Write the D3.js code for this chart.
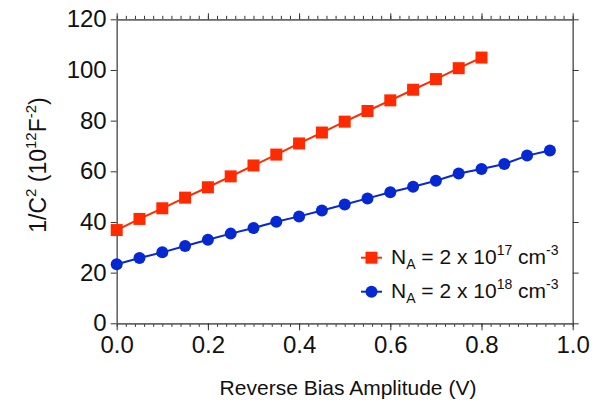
<!DOCTYPE html>
<html>
<head>
<meta charset="utf-8">
<script src="https://cdn.jsdelivr.net/npm/d3@7"></script>
<style>
    body { margin: 0; background: #fff; }
    svg { display: block; font-family: Arial, "Liberation Sans", sans-serif; }
</style>
</head>
<body>
<div id="chart"></div>
<script>
// bias amplitude (V) for each series
const biasRed = [0, 0.05, 0.1, 0.15, 0.2, 0.25, 0.3, 0.35, 0.4, 0.45, 0.5, 0.55, 0.6, 0.65, 0.7, 0.75, 0.8];
const biasBlue = [0, 0.05, 0.1, 0.15, 0.2, 0.25, 0.3, 0.35, 0.4, 0.45, 0.5, 0.55, 0.6, 0.65, 0.7, 0.75, 0.8, 0.85, 0.9, 0.95];

// 1/C^2 in 10^12 F^-2
const invC2Red = [36.8, 41.2, 45.4, 49.6, 53.7, 58.0, 62.3, 66.6, 71.0, 75.3, 79.6, 83.8, 88.0, 92.2, 96.4, 100.7, 104.9];
const invC2Blue = [23.3, 25.8, 28.0, 30.5, 33.0, 35.4, 37.6, 40.1, 42.2, 44.5, 46.9, 49.3, 51.7, 53.9, 56.3, 59.1, 60.9, 62.9, 66.2, 68.2];

const xTicks = [0, 0.2, 0.4, 0.6, 0.8, 1.0];
const xMinorTicks = d3.range(0, 51).map(i => i / 50);
const yTicks = [0, 20, 40, 60, 80, 100, 120];

const width = 602;
const height = 403;
const margin = { top: 19.3, right: 29.3, bottom: 79.7, left: 116.7 };
const plotW = width - margin.left - margin.right;
const plotH = height - margin.top - margin.bottom;

const axisColor = "#666";
const redColor = "#ff2a00";
const blueColor = "#0628d2";
const tickFont = 24;

const svg = d3.select("#chart")
    .append("svg")
    .attr("width", width)
    .attr("height", height);

const g = svg.append("g")
    .attr("transform", `translate(${margin.left},${margin.top})`);

const x = d3.scaleLinear().domain([0, 1]).range([0, plotW]);
const y = d3.scaleLinear().domain([0, 120]).range([plotH, 0]);

const styleAxis = (sel) => {
    sel.select(".domain").attr("stroke", axisColor).attr("stroke-width", 1.6);
    sel.selectAll(".tick line").attr("stroke", "#333").attr("stroke-width", 1);
    sel.selectAll(".tick text")
        .attr("fill", "#111")
        .style("font-size", tickFont + "px")
        .style("font-family", "Arial, 'Liberation Sans', sans-serif");
};

// minor ticks first so majors sit on top
g.append("g")
    .attr("transform", `translate(0,${plotH})`)
    .call(d3.axisBottom(x).tickValues(xMinorTicks).tickSize(3.5).tickFormat("").tickSizeOuter(0))
    .call(styleAxis);

g.append("g")
    .call(d3.axisTop(x).tickValues(xMinorTicks).tickSize(3.5).tickFormat("").tickSizeOuter(0))
    .call(styleAxis);

g.append("g")
    .attr("transform", `translate(0,${plotH})`)
    .call(d3.axisBottom(x).tickValues(xTicks).tickSize(7).tickPadding(6).tickFormat(d3.format(".1f")).tickSizeOuter(0))
    .call(styleAxis);

g.append("g")
    .call(d3.axisTop(x).tickValues(xTicks).tickSize(6).tickFormat("").tickSizeOuter(0))
    .call(styleAxis);

g.append("g")
    .call(d3.axisLeft(y).tickValues(yTicks).tickSize(6).tickPadding(4).tickSizeOuter(0))
    .call(styleAxis);

g.append("g")
    .attr("transform", `translate(${plotW},0)`)
    .call(d3.axisRight(y).tickValues(yTicks).tickSize(6).tickFormat("").tickSizeOuter(0))
    .call(styleAxis);

// series
const series = [
    { xs: biasRed, ys: invC2Red, color: redColor, shape: "square" },
    { xs: biasBlue, ys: invC2Blue, color: blueColor, shape: "circle" }
];

const line = d3.line().x(d => x(d[0])).y(d => y(d[1]));

const drawMarker = (sel, shape, color) => {
    if (shape === "square") {
        sel.append("rect")
            .attr("x", -6).attr("y", -6)
            .attr("width", 12).attr("height", 12)
            .attr("fill", color);
    } else {
        sel.append("circle")
            .attr("r", 6)
            .attr("fill", color);
    }
};

series.forEach(s => {
    const pts = s.xs.map((v, i) => [v, s.ys[i]]);
    g.append("path")
        .datum(pts)
        .attr("fill", "none")
        .attr("stroke", s.color)
        .attr("stroke-width", 2)
        .attr("d", line);

    g.append("g")
        .selectAll("g")
        .data(pts)
        .enter()
        .append("g")
        .attr("transform", d => `translate(${x(d[0])},${y(d[1])})`)
        .each(function() { drawMarker(d3.select(this), s.shape, s.color); });
});

// axis titles
svg.append("text")
    .attr("x", 348)
    .attr("y", 395)
    .attr("text-anchor", "middle")
    .style("font-size", "21px")
    .attr("fill", "#111")
    .text("Reverse Bias Amplitude (V)");

const yTitle = svg.append("text")
    .attr("transform", "translate(46,165) rotate(-90)")
    .attr("text-anchor", "middle")
    .style("font-size", "23px")
    .attr("fill", "#111");
yTitle.append("tspan").text("1/C");
yTitle.append("tspan").attr("dy", -10).style("font-size", "15px").text("2");
yTitle.append("tspan").attr("dy", 10).text(" (10");
yTitle.append("tspan").attr("dy", -10).style("font-size", "15px").text("12");
yTitle.append("tspan").attr("dy", 10).text("F");
yTitle.append("tspan").attr("dy", -10).style("font-size", "15px").text("-2");
yTitle.append("tspan").attr("dy", 10).text(")");

// legend
const legendItems = [
    { exp: "17", color: redColor, shape: "square" },
    { exp: "18", color: blueColor, shape: "circle" }
];

legendItems.forEach((item, i) => {
    const row = svg.append("g")
        .attr("transform", `translate(361,${257.7 + i * 34})`);
    row.append("line")
        .attr("x1", 0).attr("x2", 21)
        .attr("stroke", item.color)
        .attr("stroke-width", 2);
    drawMarker(row.append("g").attr("transform", "translate(10.5,0)"), item.shape, item.color);

    const t = row.append("text")
        .attr("x", 30)
        .attr("y", 6)
        .style("font-size", "21px")
        .attr("fill", "#111");
    t.append("tspan").text("N");
    t.append("tspan").attr("dy", 5).style("font-size", "14px").text("A");
    t.append("tspan").attr("dy", -5).text(" = 2 x 10");
    t.append("tspan").attr("dy", -9).style("font-size", "14px").text(item.exp);
    t.append("tspan").attr("dy", 9).text(" cm");
    t.append("tspan").attr("dy", -9).style("font-size", "14px").text("-3");
});
</script>
</body>
</html>
